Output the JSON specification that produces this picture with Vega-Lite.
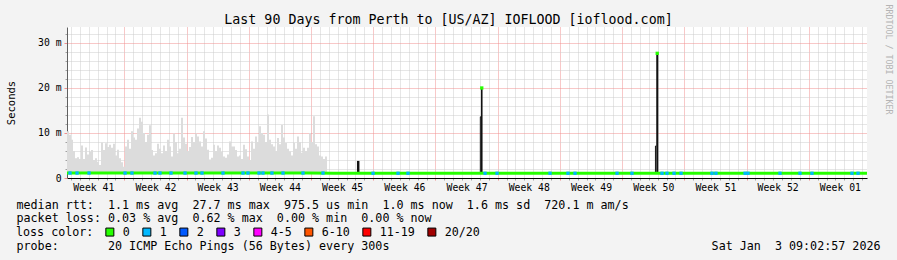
{
  "$schema": "https://vega.github.io/schema/vega-lite/v6.json",
  "width": 800,
  "height": 151,
  "autosize": {"type": "none"},
  "padding": {"left": 67, "top": 27, "right": 30, "bottom": 82},
  "background": "#f3f3f3",
  "config": {
    "view": {"fill": "white", "stroke": null},
    "font": "DejaVu Sans Mono"
  },
  "datasets": {
    "smoke": [
      {"d":0,"hi":10.4},{"d":0.225,"hi":9.6},{"d":0.45,"hi":8.5},{"d":0.675,"hi":6.0},{"d":0.9,"hi":4.4},{"d":1.125,"hi":4.6},{"d":1.35,"hi":4.2},{"d":1.575,"hi":7.2},{"d":1.8,"hi":4.2},{"d":2.025,"hi":6.8},
      {"d":2.25,"hi":5.2},{"d":2.475,"hi":5.8},{"d":2.7,"hi":6.2},{"d":2.925,"hi":4.0},{"d":3.15,"hi":4.4},{"d":3.375,"hi":3.6},{"d":3.6,"hi":2.9},{"d":3.825,"hi":7.9},{"d":4.05,"hi":6.2},{"d":4.275,"hi":7.7},
      {"d":4.5,"hi":6.9},{"d":4.725,"hi":7.4},{"d":4.95,"hi":6.7},{"d":5.175,"hi":7.6},{"d":5.4,"hi":5.0},{"d":5.625,"hi":6.3},{"d":5.85,"hi":4.4},{"d":6.075,"hi":3.5},{"d":6.3,"hi":2.5},{"d":6.525,"hi":7.0},
      {"d":6.75,"hi":8.5},{"d":6.975,"hi":6.5},{"d":7.2,"hi":10.4},{"d":7.425,"hi":9.0},{"d":7.65,"hi":8.5},{"d":7.875,"hi":11.0},{"d":8.1,"hi":13.4},{"d":8.325,"hi":12.5},{"d":8.55,"hi":10.0},{"d":8.775,"hi":8.0},
      {"d":9.0,"hi":9.6},{"d":9.225,"hi":11.7},{"d":9.45,"hi":6.2},{"d":9.675,"hi":5.0},{"d":9.9,"hi":5.5},{"d":10.125,"hi":7.6},{"d":10.35,"hi":6.5},{"d":10.575,"hi":5.5},{"d":10.8,"hi":7.2},{"d":11.025,"hi":6.0},
      {"d":11.25,"hi":8.5},{"d":11.475,"hi":7.0},{"d":11.7,"hi":4.8},{"d":11.925,"hi":9.9},{"d":12.15,"hi":8.0},{"d":12.375,"hi":5.5},{"d":12.6,"hi":6.5},{"d":12.825,"hi":13.4},{"d":13.05,"hi":9.0},{"d":13.275,"hi":7.6},
      {"d":13.5,"hi":6.0},{"d":13.725,"hi":6.9},{"d":13.95,"hi":9.1},{"d":14.175,"hi":8.0},{"d":14.4,"hi":9.9},{"d":14.625,"hi":9.2},{"d":14.85,"hi":8.1},{"d":15.075,"hi":7.0},{"d":15.3,"hi":10.4},{"d":15.525,"hi":8.8},
      {"d":15.75,"hi":6.3},{"d":15.975,"hi":4.1},{"d":16.2,"hi":4.5},{"d":16.425,"hi":7.4},{"d":16.65,"hi":6.0},{"d":16.875,"hi":7.2},{"d":17.1,"hi":6.7},{"d":17.325,"hi":5.8},{"d":17.55,"hi":4.8},{"d":17.775,"hi":4.5},
      {"d":18.0,"hi":5.2},{"d":18.225,"hi":8.1},{"d":18.45,"hi":7.0},{"d":18.675,"hi":7.0},{"d":18.9,"hi":6.2},{"d":19.125,"hi":4.8},{"d":19.35,"hi":5.0},{"d":19.575,"hi":4.2},{"d":19.8,"hi":7.4},{"d":20.025,"hi":6.4},
      {"d":20.25,"hi":4.8},{"d":20.475,"hi":4.0},{"d":20.7,"hi":8.1},{"d":20.925,"hi":6.5},{"d":21.15,"hi":9.2},{"d":21.375,"hi":8.0},{"d":21.6,"hi":11.5},{"d":21.825,"hi":10.0},{"d":22.05,"hi":9.6},{"d":22.275,"hi":8.0},
      {"d":22.5,"hi":14.1},{"d":22.725,"hi":8.5},{"d":22.95,"hi":7.5},{"d":23.175,"hi":7.0},{"d":23.4,"hi":6.0},{"d":23.625,"hi":8.9},{"d":23.85,"hi":7.5},{"d":24.075,"hi":11.8},{"d":24.3,"hi":9.0},{"d":24.525,"hi":7.8},
      {"d":24.75,"hi":6.5},{"d":24.975,"hi":5.9},{"d":25.2,"hi":5.0},{"d":25.425,"hi":7.8},{"d":25.65,"hi":6.5},{"d":25.875,"hi":9.2},{"d":26.1,"hi":8.0},{"d":26.325,"hi":5.6},{"d":26.55,"hi":6.7},{"d":26.775,"hi":6.0},
      {"d":27.0,"hi":6.7},{"d":27.225,"hi":10.0},{"d":27.45,"hi":8.0},{"d":27.675,"hi":13.7},{"d":27.9,"hi":7.5},{"d":28.125,"hi":7.0},{"d":28.35,"hi":5.0},{"d":28.575,"hi":4.8},{"d":28.8,"hi":4.2},{"d":29.025,"hi":4.8},
      {"d":29.25,"hi":4.8}
    ],
    "spikes": [
      {"d0":32.62,"d1":32.9,"top":3.8},
      {"d0":46.57,"d1":46.75,"top":20.0},
      {"d0":66.29,"d1":66.52,"top":27.7}
    ],
    "outline": [
      {"a":46.5,"b":46.5,"lo":1.0,"hi":13.6},
      {"a":46.5,"b":46.6,"lo":13.6,"hi":13.6},
      {"a":66.2,"b":66.2,"lo":1.0,"hi":7.1},
      {"a":66.2,"b":66.3,"lo":7.1,"hi":7.1}
    ],
    "median": [
      {"d":0,"rtt":1.1},{"d":3,"rtt":1.1},{"d":6,"rtt":1.1},{"d":9,"rtt":1.1},{"d":12,"rtt":1.1},{"d":15,"rtt":1.1},{"d":18,"rtt":1.1},{"d":21,"rtt":1.1},{"d":24,"rtt":1.1},{"d":27,"rtt":1.1},
      {"d":30,"rtt":1.05},{"d":33,"rtt":1.05},{"d":36,"rtt":1.05},{"d":39,"rtt":1.05},{"d":42,"rtt":1.05},{"d":45,"rtt":1.05},{"d":48,"rtt":1.05},{"d":51,"rtt":1.05},{"d":54,"rtt":1.05},{"d":57,"rtt":1.05},
      {"d":60,"rtt":1.05},{"d":63,"rtt":1.05},{"d":66,"rtt":1.05},{"d":69,"rtt":1.05},{"d":72,"rtt":1.05},{"d":75,"rtt":1.05},{"d":78,"rtt":1.05},{"d":81,"rtt":1.05},{"d":84,"rtt":1.05},{"d":87,"rtt":1.05},
      {"d":90,"rtt":1.05}
    ],
    "loss": [
      {"d":0.34,"rtt":1.1,"loss":"1"},{"d":1.13,"rtt":1.1,"loss":"1"},{"d":2.48,"rtt":1.1,"loss":"1"},{"d":6.53,"rtt":1.1,"loss":"1"},{"d":7.31,"rtt":1.1,"loss":"1"},
      {"d":9.9,"rtt":1.1,"loss":"1"},{"d":10.46,"rtt":1.1,"loss":"1"},{"d":11.7,"rtt":1.1,"loss":"1"},{"d":13.28,"rtt":1.1,"loss":"1"},{"d":14.51,"rtt":1.1,"loss":"1"},
      {"d":15.19,"rtt":1.1,"loss":"1"},{"d":17.55,"rtt":1.1,"loss":"1"},{"d":19.8,"rtt":1.1,"loss":"1"},{"d":20.36,"rtt":1.1,"loss":"1"},{"d":21.6,"rtt":1.1,"loss":"1"},
      {"d":22.05,"rtt":1.1,"loss":"1"},{"d":23.06,"rtt":1.1,"loss":"1"},{"d":24.3,"rtt":1.1,"loss":"1"},{"d":26.55,"rtt":1.1,"loss":"1"},{"d":28.8,"rtt":1.1,"loss":"1"},
      {"d":34.43,"rtt":1.05,"loss":"1"},{"d":37.24,"rtt":1.05,"loss":"1"},{"d":38.36,"rtt":1.05,"loss":"1"},{"d":47.03,"rtt":1.05,"loss":"1"},{"d":48.38,"rtt":1.05,"loss":"1"},
      {"d":54.34,"rtt":1.05,"loss":"1"},{"d":56.36,"rtt":1.05,"loss":"1"},{"d":57.15,"rtt":1.05,"loss":"1"},{"d":61.88,"rtt":1.05,"loss":"1"},{"d":63.56,"rtt":1.05,"loss":"1"},
      {"d":66.94,"rtt":1.05,"loss":"1"},{"d":67.5,"rtt":1.05,"loss":"1"},{"d":68.29,"rtt":1.05,"loss":"1"},{"d":69.08,"rtt":1.05,"loss":"1"},{"d":72.56,"rtt":1.05,"loss":"1"},
      {"d":73.01,"rtt":1.05,"loss":"1"},{"d":76.28,"rtt":1.05,"loss":"1"},{"d":76.61,"rtt":1.05,"loss":"1"},{"d":80.21,"rtt":1.05,"loss":"1"},{"d":82.46,"rtt":1.05,"loss":"1"},
      {"d":83.81,"rtt":1.05,"loss":"1"},{"d":88.31,"rtt":1.05,"loss":"1"},{"d":88.99,"rtt":1.05,"loss":"1"},
      {"d":46.66,"rtt":20.0,"loss":"0"},{"d":66.4,"rtt":27.7,"loss":"0"}
    ]
  },
  "layer": [
    {
      "data": {"name": "smoke"},
      "mark": {"type": "area", "interpolate": "step-after", "color": "#dcdcdc"},
      "encoding": {
        "x": {
          "field": "d", "type": "quantitative",
          "scale": {"domain": [0, 90], "nice": false, "zero": false},
          "axis": {
            "orient": "bottom",
            "values": [0.45,1.45,2.45,3.45,4.45,5.45,7.45,8.45,9.45,10.45,11.45,12.45,14.45,15.45,16.45,17.45,18.45,19.45,21.45,22.45,23.45,24.45,25.45,26.45,28.45,29.45,30.45,31.45,32.45,33.45,35.45,36.45,37.45,38.45,39.45,40.45,42.45,43.45,44.45,45.45,46.45,47.45,49.45,50.45,51.45,52.45,53.45,54.45,56.45,57.45,58.45,59.45,60.45,61.45,63.45,64.45,65.45,66.45,67.45,68.45,70.45,71.45,72.45,73.45,74.45,75.45,77.45,78.45,79.45,80.45,81.45,82.45,84.45,85.45,86.45,87.45,88.45,89.45],
            "grid": true, "gridColor": "#cccccc", "gridDash": [1, 1],
            "labels": false, "ticks": true, "tickSize": 2, "tickColor": "#a0a0a0",
            "domain": false,
            "title": "probe:\u00a0\u00a0\u00a0\u00a0\u00a0\u00a0\u00a020 ICMP Echo Pings (56 Bytes) every 300s",
            "titleFont": "DejaVu Sans Mono", "titleFontSize": 11.7, "titleFontWeight": "normal", "titleColor": "black",
            "titleX": -51, "titleY": 62.4, "titleAlign": "left", "titleBaseline": "top"
          }
        },
        "y": {
          "field": "hi", "type": "quantitative",
          "scale": {"domain": [0, 33.55], "nice": false, "zero": false},
          "axis": {
            "orient": "left",
            "values": [2,4,6,8,12,14,16,18,22,24,26,28,32],
            "grid": true, "gridColor": "#cccccc", "gridDash": [1, 1],
            "labels": false, "ticks": true, "tickSize": 2, "tickColor": "#a0a0a0",
            "domain": false, "title": null
          }
        },
        "y2": {"datum": 0.95}
      }
    },
    {
      "data": {"name": "spikes"},
      "mark": {"type": "rect", "color": "#111111"},
      "encoding": {
        "x": {
          "field": "d0", "type": "quantitative",
          "scale": {"domain": [0, 90], "nice": false, "zero": false},
          "axis": {
            "orient": "bottom",
            "values": [6.45,13.45,20.45,27.45,34.45,41.45,48.45,55.45,62.45,69.45,76.45,83.45],
            "grid": true, "gridColor": "#f09090", "gridDash": [1, 1],
            "labels": false, "ticks": true, "tickSize": 2, "tickColor": "#f09090",
            "domain": false,
            "title": "Sat Jan\u00a0\u00a03 09:02:57 2026",
            "titleFont": "DejaVu Sans Mono", "titleFontSize": 11.7, "titleFontWeight": "normal",
            "titleColor": "black", "titleX": 813, "titleY": 62.4, "titleAlign": "right", "titleBaseline": "top"
          }
        },
        "x2": {"field": "d1"},
        "y": {
          "field": "top", "type": "quantitative",
          "scale": {"domain": [0, 33.55], "nice": false, "zero": false},
          "axis": {
            "orient": "left",
            "values": [0, 10, 20, 30],
            "labelExpr": "datum.value == 0 ? '0' : datum.value + ' m'",
            "grid": true, "gridColor": "#f09090", "gridDash": [1, 1],
            "labels": true, "labelFont": "DejaVu Sans Mono", "labelFontSize": 9.75, "labelColor": "black", "labelPadding": 3,
            "ticks": true, "tickSize": 3, "tickColor": "#f09090",
            "domain": true, "domainColor": "#606060",
            "title": "Seconds",
            "titleFont": "DejaVu Sans Mono", "titleFontSize": 10.5, "titleFontWeight": "normal", "titleColor": "black",
            "titleX": -56, "titleY": 75.5, "titleAngle": -90, "titleAlign": "center", "titleBaseline": "middle"
          }
        },
        "y2": {"datum": 1.0}
      }
    },
    {
      "data": {"name": "outline"},
      "mark": {"type": "rule", "color": "#111111", "strokeWidth": 1},
      "encoding": {
        "x": {
          "field": "a", "type": "quantitative",
          "scale": {"domain": [0, 90], "nice": false, "zero": false},
          "axis": {
            "orient": "bottom",
            "values": [2.95,9.95,16.95,23.95,30.95,37.95,44.95,51.95,58.95,65.95,72.95,79.95,86.95],
            "labelExpr": "['Week 41','Week 42','Week 43','Week 44','Week 45','Week 46','Week 47','Week 48','Week 49','Week 50','Week 51','Week 52','Week 01'][round((datum.value - 2.95) / 7)]",
            "grid": false, "ticks": false,
            "labelFont": "DejaVu Sans Mono", "labelFontSize": 9.75, "labelColor": "black", "labelPadding": 4,
            "domain": true, "domainColor": "black", "domainWidth": 1,
            "title": [
              "median rtt:\u00a0\u00a01.1 ms avg\u00a0\u00a027.7 ms max\u00a0\u00a0975.5 us min\u00a0\u00a01.0 ms now\u00a0\u00a01.6 ms sd\u00a0\u00a0720.1 m am/s",
              "packet loss: 0.03 % avg\u00a0\u00a00.62 % max\u00a0\u00a00.00 % min\u00a0\u00a00.00 % now"
            ],
            "titleFont": "DejaVu Sans Mono", "titleFontSize": 11.7, "titleFontWeight": "normal", "titleColor": "black",
            "titleX": -51, "titleY": 21, "titleAlign": "left", "titleBaseline": "top", "titleLineHeight": 13.8
          }
        },
        "x2": {"field": "b"},
        "y": {
          "field": "lo", "type": "quantitative",
          "scale": {"domain": [0, 33.55], "nice": false, "zero": false},
          "axis": {
            "orient": "right", "values": [], "grid": false, "labels": false, "ticks": false, "domain": false,
            "title": "RRDTOOL / TOBI OETIKER",
            "titleFont": "DejaVu Sans Mono", "titleFontSize": 8.3, "titleFontWeight": "normal", "titleColor": "#b4b4b4",
            "titleX": 20, "titleY": 32, "titleAngle": 90, "titleAlign": "center", "titleBaseline": "middle"
          }
        },
        "y2": {"field": "hi"}
      }
    },
    {
      "data": {"name": "median"},
      "mark": {"type": "line", "color": "#26ff00", "strokeWidth": 3},
      "encoding": {
        "x": {
          "field": "d", "type": "quantitative", "scale": {"domain": [0, 90], "nice": false, "zero": false},
          "axis": {
            "orient": "top", "values": [], "grid": false, "labels": false, "ticks": false, "domain": false,
            "title": "Last 90 Days from Perth to [US/AZ] IOFLOOD [ioflood.com]",
            "titleFont": "DejaVu Sans Mono", "titleFontSize": 13.3, "titleFontWeight": "normal", "titleColor": "black",
            "titleX": 381, "titleY": -4, "titleAlign": "center", "titleBaseline": "alphabetic"
          }
        },
        "y": {"field": "rtt", "type": "quantitative", "scale": {"domain": [0, 33.55], "nice": false, "zero": false}, "axis": null}
      }
    },
    {
      "data": {"name": "loss"},
      "mark": {"type": "point", "shape": "square", "filled": true, "size": 11, "opacity": 1},
      "encoding": {
        "x": {"field": "d", "type": "quantitative", "scale": {"domain": [0, 90], "nice": false, "zero": false}, "axis": null},
        "y": {"field": "rtt", "type": "quantitative", "scale": {"domain": [0, 33.55], "nice": false, "zero": false}, "axis": null},
        "color": {
          "field": "loss", "type": "nominal",
          "scale": {
            "domain": ["0", "1", "2", "3", "4-5", "6-10", "11-19", "20/20"],
            "range": ["#26ff00", "#00b8ff", "#0059ff", "#7e00ff", "#ff00ff", "#ff5500", "#ff0000", "#a00000"]
          },
          "legend": {
            "orient": "none", "legendX": -51, "legendY": 199,
            "direction": "horizontal",
            "title": "loss color:", "titleOrient": "left", "titlePadding": 10,
            "titleFont": "DejaVu Sans Mono", "titleFontSize": 11.7, "titleFontWeight": "normal", "titleColor": "black",
            "labelFont": "DejaVu Sans Mono", "labelFontSize": 11.7, "labelColor": "black", "labelOffset": 7,
            "symbolType": "square", "symbolSize": 64, "symbolOpacity": 1,
            "columnPadding": 10, "padding": 0, "offset": 0,
            "encode": {"symbols": {"update": {"stroke": {"value": "black"}, "strokeWidth": {"value": 1}}}}
          }
        }
      }
    },
    {
      "mark": {"type": "point", "shape": "triangle-up", "filled": true, "size": 30, "color": "#8b1a1a", "opacity": 1},
      "encoding": {
        "x": {"datum": 0, "type": "quantitative", "scale": {"domain": [0, 90], "nice": false, "zero": false}, "axis": null},
        "y": {"datum": 34.7, "type": "quantitative", "scale": {"domain": [0, 33.55], "nice": false, "zero": false}, "axis": null}
      }
    },
    {
      "mark": {"type": "point", "shape": "triangle-right", "filled": true, "size": 30, "color": "#8b1a1a", "opacity": 1},
      "encoding": {
        "x": {"datum": 90.35, "type": "quantitative", "scale": {"domain": [0, 90], "nice": false, "zero": false}, "axis": null},
        "y": {"datum": 0, "type": "quantitative", "scale": {"domain": [0, 33.55], "nice": false, "zero": false}, "axis": null}
      }
    }
  ],
  "resolve": {"axis": {"x": "independent", "y": "independent"}}
}
